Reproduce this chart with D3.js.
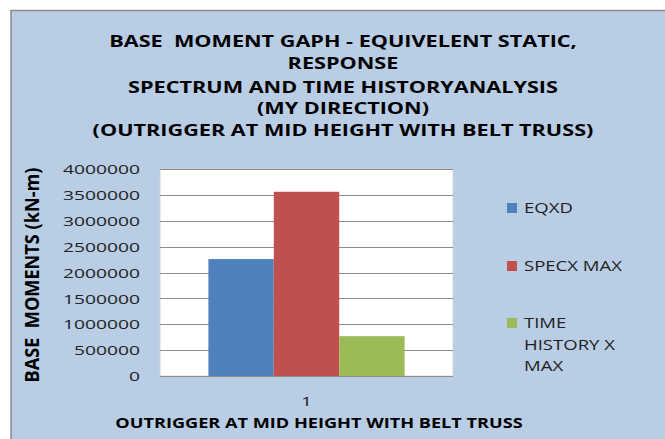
<!DOCTYPE html>
<html>
<head>
<meta charset="utf-8">
<script src="https://cdn.jsdelivr.net/npm/d3@7"></script>
<style>
  body { margin: 0; background: #fff; }
  svg { display: block; font-family: "Open Sans", sans-serif; }
  text { white-space: pre; }
</style>
</head>
<body>
<div id="chart"></div>
<script>
// chart data
var categories = ["1"];
var seriesNames = ["EQXD", "SPECX MAX", "TIME HISTORY X MAX"];
var seriesValues = [2260000, 3560000, 770000];
var yTicks = [0, 500000, 1000000, 1500000, 2000000, 2500000, 3000000, 3500000, 4000000];
var titleLines = [
    "BASE  MOMENT GAPH - EQUIVELENT STATIC,",
    "RESPONSE",
    "SPECTRUM AND TIME HISTORYANALYSIS",
    "(MY DIRECTION)",
    "(OUTRIGGER AT MID HEIGHT WITH BELT TRUSS)"
];
var legendLines = [["EQXD"], ["SPECX MAX"], ["TIME", "HISTORY X", "MAX"]];
var xTitle = "OUTRIGGER AT MID HEIGHT WITH BELT TRUSS";
var yTitle = "BASE  MOMENTS (kN-m)";

var W = 665, H = 439;
var COLORS = ["#4f81bd", "#c0504d", "#9bbb59"];
var plot = {left: 160, right: 453, top: 169, bottom: 376};

var svg = d3.select('#chart').append('svg')
    .attr('width', W)
    .attr('height', H);

// chart area background (cropped at right and bottom)
svg.append('rect')
    .attr('x', 11).attr('y', 10.5)
    .attr('width', 700).attr('height', 500)
    .attr('fill', '#b9cde5')
    .attr('stroke', '#8a8a8a')
    .attr('stroke-width', 1.5);

// stretch text horizontally around its anchor x
function stretch(sel, sx) {
    sel.each(function () {
        var t = d3.select(this);
        var x = +t.attr('x') || 0;
        t.attr('transform', `translate(${x * (1 - sx)},0) scale(${sx},1)`);
    });
}
function widthOf(sel) {
    return sel.node().getComputedTextLength();
}

// title
var title = svg.append('g').attr('class', 'title');
var titleY = [47, 69, 93, 114, 136];
title.selectAll('text')
    .data(titleLines)
    .enter()
    .append('text')
    .attr('x', 343)
    .attr('y', (d, i) => titleY[i])
    .attr('text-anchor', 'middle')
    .style('font-size', '16.5px')
    .style('font-weight', 'bold')
    .attr('fill', '#000')
    .text((d) => d);
var titleSx = 501 / widthOf(title.selectAll('text').filter((d, i) => i == 4));
stretch(title.selectAll('text'), titleSx);

// scales
var x0 = d3.scaleBand()
    .domain(categories)
    .range([plot.left, plot.right])
    .paddingInner(0)
    .paddingOuter(0);
var x1 = d3.scaleBand()
    .domain(seriesNames)
    .range([0, x0.bandwidth()])
    .paddingOuter(0.74)
    .paddingInner(0);
var y = d3.scaleLinear()
    .domain([0, 4000000])
    .range([plot.bottom, plot.top]);

// plot area
svg.append('rect')
    .attr('x', plot.left).attr('y', plot.top)
    .attr('width', plot.right - plot.left)
    .attr('height', plot.bottom - plot.top)
    .attr('fill', '#fff')
    .attr('stroke', '#d4d4d4')
    .attr('stroke-width', 1);

// gridlines
svg.append('g')
    .selectAll('line')
    .data(yTicks.slice(1))
    .enter()
    .append('line')
    .attr('x1', plot.left).attr('x2', plot.right)
    .attr('y1', (d) => Math.round(y(d)) + 0.5)
    .attr('y2', (d) => Math.round(y(d)) + 0.5)
    .attr('stroke', '#8c8c8c')
    .attr('stroke-width', 1);

// bars
svg.append('g')
    .selectAll('g')
    .data(categories)
    .enter()
    .append('g')
    .attr('transform', (d) => `translate(${x0(d)},0)`)
    .selectAll('rect')
    .data(() => seriesNames.map((s, i) => ({name: s, value: seriesValues[i], i: i})))
    .enter()
    .append('rect')
    .attr('x', (d) => x1(d.name))
    .attr('y', (d) => y(d.value))
    .attr('width', x1.bandwidth())
    .attr('height', (d) => y(0) - y(d.value))
    .attr('fill', (d) => COLORS[d.i]);

// x axis line
svg.append('line')
    .attr('x1', plot.left).attr('x2', plot.right)
    .attr('y1', plot.bottom + 0.5).attr('y2', plot.bottom + 0.5)
    .attr('stroke', '#8c8c8c');

// y axis
var yAxis = svg.append('g')
    .attr('transform', `translate(${plot.left},0)`)
    .call(d3.axisLeft(y).tickValues(yTicks).tickSize(0).tickPadding(20).tickFormat(d3.format('d')));
yAxis.select('.domain').remove();
yAxis.selectAll('text')
    .style('font-size', '13px')
    .style('font-family', '"Open Sans", sans-serif')
    .attr('fill', '#222')
    .attr('dy', '0.36em');
var tickSx = 77 / widthOf(yAxis.selectAll('text').filter((d) => d == 4000000));
stretch(yAxis.selectAll('text'), tickSx);

// x axis tick label
var xAxis = svg.append('g')
    .attr('transform', `translate(0,${plot.bottom})`)
    .call(d3.axisBottom(x0).tickSize(0).tickPadding(21));
xAxis.select('.domain').remove();
xAxis.selectAll('text')
    .style('font-size', '13px')
    .style('font-family', '"Open Sans", sans-serif')
    .attr('fill', '#222');
stretch(xAxis.selectAll('text'), tickSx);

// axis titles
var xt = svg.append('text')
    .attr('x', 319).attr('y', 428)
    .attr('text-anchor', 'middle')
    .style('font-size', '14.5px')
    .style('font-weight', 'bold')
    .text(xTitle);
stretch(xt, 408 / widthOf(xt));

var yt = svg.append('text')
    .attr('transform', `translate(39,275) rotate(-90)`)
    .attr('text-anchor', 'middle')
    .style('font-size', '13.5px')
    .style('font-weight', 'bold')
    .text(yTitle);
var ytLen = widthOf(yt);
yt.attr('transform', `translate(39,275) rotate(-90) scale(${215 / ytLen},1.45)`);

// legend
var legendY = [208, 266, 323];
var legend = svg.append('g')
    .selectAll('g')
    .data(legendLines)
    .enter()
    .append('g')
    .attr('transform', (d, i) => `translate(0,${legendY[i]})`);
legend.append('rect')
    .attr('x', 507).attr('y', -5)
    .attr('width', 10).attr('height', 10)
    .attr('fill', (d, i) => COLORS[i]);
legend.selectAll('text')
    .data((d) => d)
    .enter()
    .append('text')
    .attr('x', 524)
    .attr('y', (d, j) => j * 21.5)
    .attr('dy', '0.36em')
    .style('font-size', '15px')
    .attr('fill', '#222')
    .text((d) => d);
var legSx = 98 / widthOf(legend.selectAll('text').filter((d) => d == 'SPECX MAX'));
stretch(legend.selectAll('text'), legSx);
</script>
</body>
</html>
